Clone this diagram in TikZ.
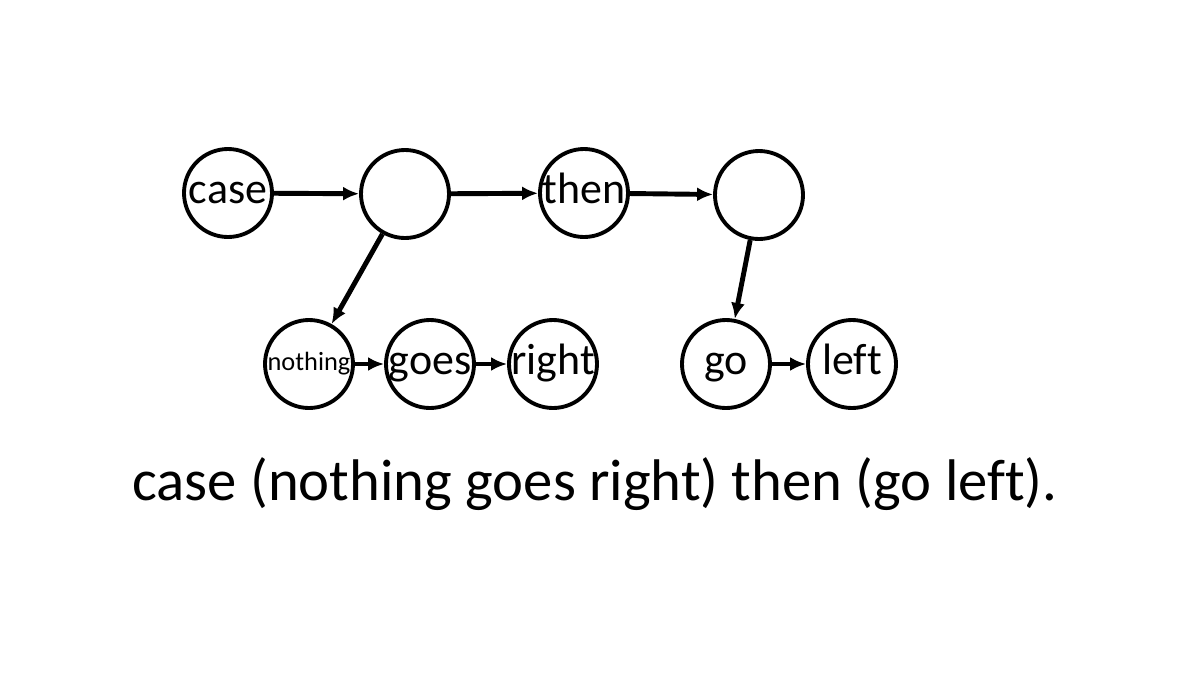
\documentclass[tikz,border=0pt]{standalone}
\usepackage{fontspec}
\setmainfont[Ligatures=NoCommon]{Carlito}
\usetikzlibrary{arrows.meta}
\tikzset{
  word/.style={draw, circle, line width=1.1pt, minimum size=0.88cm, inner sep=0pt, text height=6.2pt, text depth=0pt, font=\fontsize{12.5}{14}\selectfont},
  link/.style={-{Latex[length=1.6mm, width=1.4mm]}, line width=1.4pt}
}

\begin{document}
\begin{tikzpicture}
\useasboundingbox (0,0) rectangle (12,-6.75);
% Top row
\node[word] (case) at (2.28, -1.93) {case};
\node[word] (slotA) at (4.05, -1.94) {};
\node[word] (then) at (5.84, -1.93) {then};
\node[word] (slotB) at (7.59, -1.95) {};

% Bottom row
\node[word, text height=3.6pt, font=\fontsize{7.5}{9}\selectfont] (nothing) at (3.09, -3.64) {nothing};
\node[word] (goes) at (4.30, -3.64) {goes};
\node[word] (right) at (5.53, -3.64) {right};
\node[word] (go) at (7.26, -3.64) {go};
\node[word] (left) at (8.52, -3.64) {left};

% Arrows
\draw[link] (case) -- (slotA);
\draw[link] (slotA) -- (then);
\draw[link] (then) -- (slotB);
\draw[link] (slotA) -- (nothing);
\draw[link] (nothing) -- (goes);
\draw[link] (goes) -- (right);
\draw[link] (slotB) -- (go);
\draw[link] (go) -- (left);

% Sentence
\node[anchor=base, font=\fontsize{16.7}{19}\selectfont] (sentence) at (5.95, -5.0) {case (nothing goes right) then (go left).};
\end{tikzpicture}
\end{document}
